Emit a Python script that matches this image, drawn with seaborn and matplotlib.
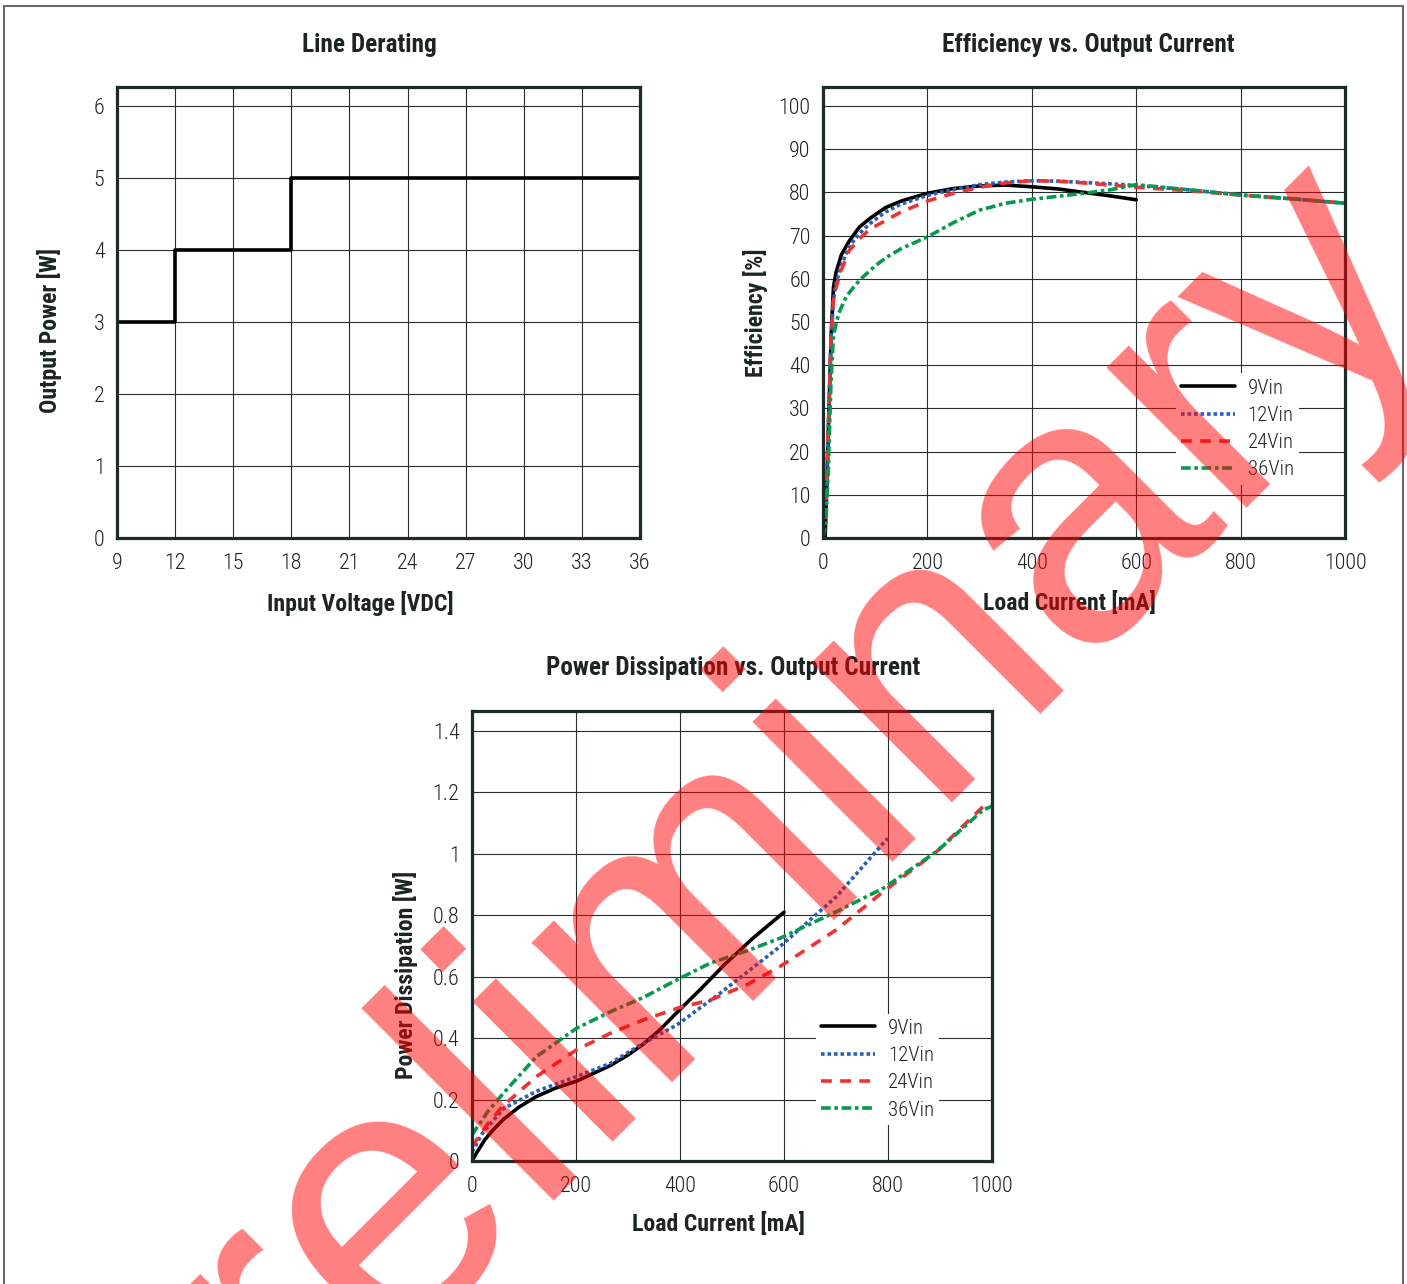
import os
import numpy as np
import pandas as pd
import matplotlib
matplotlib.use("Agg")
import matplotlib.pyplot as plt
import matplotlib.font_manager as fm
from matplotlib.lines import Line2D
import seaborn as sns

# ---------------- data ----------------
vin_x = [9, 12, 18, 36]
vin_p = [3, 4, 5, 5]
vin_ticks = [9, 12, 15, 18, 21, 24, 27, 30, 33, 36]

series_names = ["9Vin", "12Vin", "24Vin", "36Vin"]

eff9_x = [0, 4, 8, 12, 16, 20, 25, 35, 50, 70, 90, 120, 150, 200, 250, 300, 350, 400, 450, 500, 550, 600]
eff9_y = [0, 0, 15, 32, 48, 58, 61.5, 65.5, 68.7, 72, 74, 76.5, 78, 79.8, 80.9, 81.5, 81.7, 81.3, 80.8, 80.0, 79.2, 78.3]

eff12_x = [0, 5, 10, 15, 20, 25, 35, 50, 70, 90, 120, 150, 200, 250, 300, 350, 400, 450, 500, 550, 600, 700, 800, 900, 1000]
eff12_y = [0, 5, 25, 45, 55, 59, 63, 67.5, 70.5, 72.8, 75.5, 77.3, 79.3, 80.7, 81.8, 82.4, 82.7, 82.6, 82.3, 82.0, 81.6, 80.6, 79.4, 78.5, 77.5]

eff24_x = [0, 5, 10, 15, 20, 25, 35, 50, 70, 90, 120, 150, 200, 250, 300, 350, 400, 450, 500, 550, 600, 700, 800, 900, 1000]
eff24_y = [0, 5, 25, 45, 55, 58, 62, 66.5, 69.3, 71.5, 73.5, 75.5, 78.0, 79.8, 81.2, 82.2, 82.7, 82.6, 82.2, 81.7, 81.2, 80.4, 79.4, 78.5, 77.5]

eff36_x = [0, 5, 10, 15, 20, 30, 45, 70, 100, 122, 150, 200, 250, 300, 350, 400, 450, 500, 550, 600, 700, 800, 900, 1000]
eff36_y = [0, 3, 15, 35, 47, 52, 56, 59.7, 63, 65, 67, 69.7, 73, 75.9, 77.5, 78.4, 79.1, 79.8, 80.6, 81.8, 80.6, 79.4, 78.5, 77.5]

pd9_x = [0, 10, 25, 40, 60, 90, 124, 160, 201, 265, 300, 329, 360, 398, 440, 486, 540, 600]
pd9_y = [0, 0.03, 0.07, 0.10, 0.135, 0.175, 0.21, 0.237, 0.26, 0.31, 0.345, 0.38, 0.425, 0.49, 0.56, 0.64, 0.725, 0.81]

pd12_x = [0, 20, 60, 124, 201, 265, 329, 394, 477, 592, 701, 791, 800]
pd12_y = [0.03, 0.09, 0.17, 0.227, 0.275, 0.317, 0.383, 0.443, 0.546, 0.698, 0.861, 1.035, 1.05]

pd24_x = [0, 30, 60, 124, 201, 265, 329, 400, 458, 530, 592, 700, 791, 894, 983, 1000]
pd24_y = [0.047, 0.12, 0.18, 0.275, 0.362, 0.415, 0.459, 0.50, 0.524, 0.575, 0.633, 0.752, 0.877, 1.008, 1.154, 1.16]

pd36_x = [0, 30, 60, 124, 201, 265, 329, 400, 458, 530, 592, 701, 791, 894, 983, 1000]
pd36_y = [0.085, 0.16, 0.22, 0.34, 0.432, 0.485, 0.532, 0.595, 0.644, 0.685, 0.725, 0.812, 0.888, 1.008, 1.143, 1.155]

cur_ticks = [0, 200, 400, 600, 800, 1000]
eff_ticks = [0, 10, 20, 30, 40, 50, 60, 70, 80, 90, 100]
pd_ticks = [0, 0.2, 0.4, 0.6, 0.8, 1.0, 1.2, 1.4]
pd_tick_labels = ["0", "0.2", "0.4", "0.6", "0.8", "1", "1.2", "1.4"]

# ---------------- fonts ----------------
sns.set_theme(style="white")
plt.rcParams["font.family"] = ["DejaVu Sans"]


def find_condensed(target_weight):
    pref = ["roboto condensed", "liberation sans narrow", "noto sans", "dejavu sans", "open sans", "lato", "inter"]
    best, best_score = None, None
    for f in fm.fontManager.ttflist:
        n = f.name.lower()
        fn = os.path.basename(f.fname).lower()
        stretch = str(f.stretch).lower()
        cond = ("condensed" in n or "narrow" in n or "condensed" in fn or "narrow" in fn
                or stretch in ("condensed", "semi-condensed", "extra-condensed"))
        if not cond:
            continue
        if f.style != "normal" or "italic" in fn or "oblique" in fn:
            continue
        w = f.weight if isinstance(f.weight, (int, float)) else fm.weight_dict.get(f.weight, 400)
        score = abs(w - target_weight) / 100.0
        fam_rank = len(pref)
        for i, p in enumerate(pref):
            if n.startswith(p):
                fam_rank = i
                break
        score += fam_rank * 0.5
        if "extra" in fn or "ultra" in fn or "semi" in fn:
            score += 1.5
        if best_score is None or score < best_score:
            best, best_score = f, score
    if best is None:
        return None
    return best.fname


f_reg = find_condensed(300)
f_bold = find_condensed(600)
fp_reg = fm.FontProperties(fname=f_reg) if f_reg else fm.FontProperties(family="DejaVu Sans", stretch="condensed")
fp_bold = fm.FontProperties(fname=f_bold) if f_bold else fm.FontProperties(family="DejaVu Sans", weight="bold", stretch="condensed")

W, H = 1407, 1284
fig = plt.figure(figsize=(W / 100, H / 100), dpi=100)
renderer = fig.canvas.get_renderer()


def fit_size(text, fp, target_px):
    p = fp.copy()
    p.set_size(20)
    w, h, d = renderer.get_text_width_height_descent(text, p, ismath=False)
    return 20 * target_px / w


def sized(fp, size):
    p = fp.copy()
    p.set_size(size)
    return p


s_title = fit_size("Efficiency vs. Output Current", fp_bold, 292)
s_label = fit_size("Load Current [mA]", fp_bold, 173)
s_tick = fit_size("1000", fp_reg, 43)
s_leg = fit_size("12Vin", fp_reg, 46)
P_TITLE = sized(fp_bold, s_title)
P_LABEL = sized(fp_bold, s_label)
P_TICK = sized(fp_reg, s_tick)
P_LEG = sized(fp_reg, s_leg)

# ---------------- style ----------------
colors = {"9Vin": "#000000", "12Vin": "#2a5fb8", "24Vin": "#ee3333", "36Vin": "#079a4f"}
styles = {"9Vin": "-", "12Vin": (0, (1.0, 0.8)), "24Vin": (0, (3.0, 2.3)), "36Vin": (0, (2.7, 1.0, 1.0, 1.0))}
LW = 2.6
SPINE = "#1c2a2a"
GRID = "#262f2f"
TXT = "#1c2424"


def px_axes(x0, x1, ytop, ybot):
    return fig.add_axes([x0 / W, 1 - ybot / H, (x1 - x0) / W, (ybot - ytop) / H])


def style_axes(ax):
    for s in ax.spines.values():
        s.set_visible(True)
        s.set_color(SPINE)
        s.set_linewidth(2.3)
    ax.grid(True, color=GRID, linewidth=0.8)
    ax.set_axisbelow(True)
    ax.tick_params(axis="x", length=0, colors=TXT, pad=11)
    ax.tick_params(axis="y", length=0, colors=TXT, pad=9)
    for lab in ax.get_xticklabels() + ax.get_yticklabels():
        lab.set_fontproperties(P_TICK)


# ---- Line Derating ----
ax1 = px_axes(117, 640, 87, 538)
sns.lineplot(x=vin_x, y=vin_p, ax=ax1, color="black", linewidth=LW, drawstyle="steps-post")
ax1.set_xlim(9, 36)
ax1.set_ylim(0, 6.26)
ax1.set_xticks(vin_ticks)
ax1.set_yticks(range(0, 7))
style_axes(ax1)
ax1.set_xlabel("Input Voltage [VDC]", fontproperties=P_LABEL, color=TXT)
ax1.set_ylabel("Output Power [W]", fontproperties=P_LABEL, color=TXT)
ax1.xaxis.set_label_coords(0.465, -0.1175)
ax1.yaxis.set_label_coords(-0.105, 0.461)

# ---- Efficiency ----
ax2 = px_axes(823, 1345, 87, 538)
eff_data = {"9Vin": (eff9_x, eff9_y), "12Vin": (eff12_x, eff12_y),
            "24Vin": (eff24_x, eff24_y), "36Vin": (eff36_x, eff36_y)}
for name in series_names:
    xs, ys = eff_data[name]
    sns.lineplot(x=xs, y=ys, ax=ax2, color=colors[name], linewidth=LW,
                 linestyle=styles[name], label=name, dash_capstyle="butt")
ax2.set_xlim(0, 1000)
ax2.set_ylim(0, 104.4)
ax2.set_xticks(cur_ticks)
ax2.set_yticks(eff_ticks)
style_axes(ax2)
ax2.set_xlabel("Load Current [mA]", fontproperties=P_LABEL, color=TXT)
ax2.set_ylabel("Efficiency [%]", fontproperties=P_LABEL, color=TXT)
ax2.xaxis.set_label_coords(0.473, -0.1175)
ax2.yaxis.set_label_coords(-0.105, 0.499)

# ---- Power Dissipation ----
ax3 = px_axes(472, 992, 711, 1161)
pd_data = {"9Vin": (pd9_x, pd9_y), "12Vin": (pd12_x, pd12_y),
           "24Vin": (pd24_x, pd24_y), "36Vin": (pd36_x, pd36_y)}
for name in series_names:
    xs, ys = pd_data[name]
    sns.lineplot(x=xs, y=ys, ax=ax3, color=colors[name], linewidth=LW,
                 linestyle=styles[name], label=name, dash_capstyle="butt")
ax3.set_xlim(0, 1000)
ax3.set_ylim(0, 1.465)
ax3.set_xticks(cur_ticks)
ax3.set_yticks(pd_ticks)
ax3.set_yticklabels(pd_tick_labels)
style_axes(ax3)
ax3.set_xlabel("Load Current [mA]", fontproperties=P_LABEL, color=TXT)
ax3.set_ylabel("Power Dissipation [W]", fontproperties=P_LABEL, color=TXT)
ax3.xaxis.set_label_coords(0.473, -0.113)
ax3.yaxis.set_label_coords(-0.104, 0.413)

for ax, anchor in ((ax2, (0.794, 0.2417)), (ax3, (0.780, 0.204))):
    leg = ax.legend(loc="center", bbox_to_anchor=anchor, frameon=True, prop=P_LEG,
                    handlelength=2.6, handletextpad=0.6, labelspacing=0.4,
                    borderpad=0.25, borderaxespad=0, fancybox=False)
    leg.get_frame().set_facecolor("white")
    leg.get_frame().set_edgecolor("none")
    leg.get_frame().set_alpha(1)
    for t in leg.get_texts():
        t.set_color(TXT)

# ---- titles ----
for (tx, ty), txt in (((369, 45), "Line Derating"),
                      ((1088, 45), "Efficiency vs. Output Current"),
                      ((733, 668), "Power Dissipation vs. Output Current")):
    fig.text(tx / W, 1 - ty / H, txt, ha="center", va="center",
             fontproperties=P_TITLE, color=TXT)

# ---- page frame ----
fc = "#6a6a6a"
fig.add_artist(Line2D([4 / W, 4 / W], [0, 1 - 6 / H], color=fc, lw=1.5, transform=fig.transFigure))
fig.add_artist(Line2D([4 / W, 1403 / W], [1 - 6 / H, 1 - 6 / H], color=fc, lw=1.5, transform=fig.transFigure))
fig.add_artist(Line2D([1403 / W, 1403 / W], [0, 1 - 6 / H], color=fc, lw=1.5, transform=fig.transFigure))

# ---- watermark ----
fig.text(778 / W, 1 - 946 / H, "Preliminary", ha="center", va="baseline", rotation=45,
         rotation_mode="anchor", fontsize=270, color=(1, 0, 0, 0.5),
         family=["Liberation Sans", "DejaVu Sans"], zorder=100)

fig.savefig("out.png", dpi=100)
